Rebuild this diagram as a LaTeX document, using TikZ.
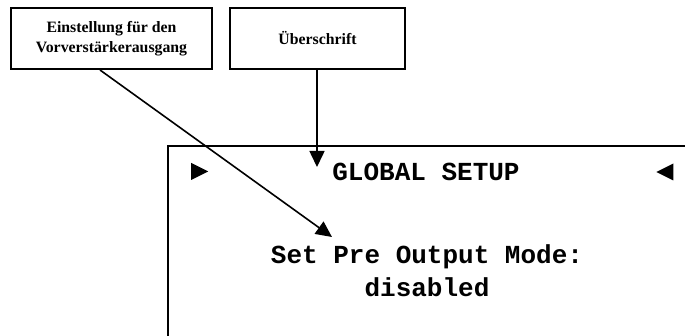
\documentclass[tikz,border=0pt]{standalone}
\usepackage{fontspec}
\setmainfont{Liberation Serif}
\newfontfamily\lcdfont{Liberation Mono}
\usetikzlibrary{arrows.meta,positioning,shapes.geometric}

\begin{document}
\begin{tikzpicture}[x=0.5pt,y=-0.5pt,line width=1pt,
		label box/.style={draw,rectangle,inner sep=0pt,minimum height=30.5pt,
			font=\bfseries\fontsize{7.9}{9.8}\selectfont,align=center},
		pointer/.style={-{Triangle[length=8pt,width=7.5pt]},line width=0.8pt},
		lcd/.style={font=\lcdfont\bfseries\fontsize{13}{16.5}\selectfont,align=center},
		marker/.style={isosceles triangle,isosceles triangle stretches,fill=black,
			inner sep=0pt,minimum width=8.5pt,minimum height=8.5pt}]
		
		\useasboundingbox (0,0) rectangle (685,336);
		
		% --- Labels ---
		\node[label box, minimum width=100.5pt] (mode) at (111.5,38.5) {Einstellung für den\\Vorverstärkerausgang};
		\node[label box, minimum width=87.5pt]  (head) [right=8pt of mode] {Überschrift};
		
		% --- Display ---
		\draw (690,146) -- (168,146) -- (168,340);
		\node[lcd]     (title)  at (426,172) {GLOBAL SETUP};
		\node[marker]  (left)   at (196.5,171.5) {};
		\node[marker, shape border rotate=180] (right) at (668,172) {};
		\node[lcd]     (value)  at (427,271) {Set Pre Output Mode:\\disabled};
		
		% --- Pointers ---
		\coordinate (mode tip) at (332,237);
		\coordinate (head tip) at (317,167);
		\draw[pointer] ([xshift=-5.75pt]mode.south) -- (mode tip);
		\draw[pointer] (head.south -| head tip) -- (head tip);
	\end{tikzpicture}
\end{document}
